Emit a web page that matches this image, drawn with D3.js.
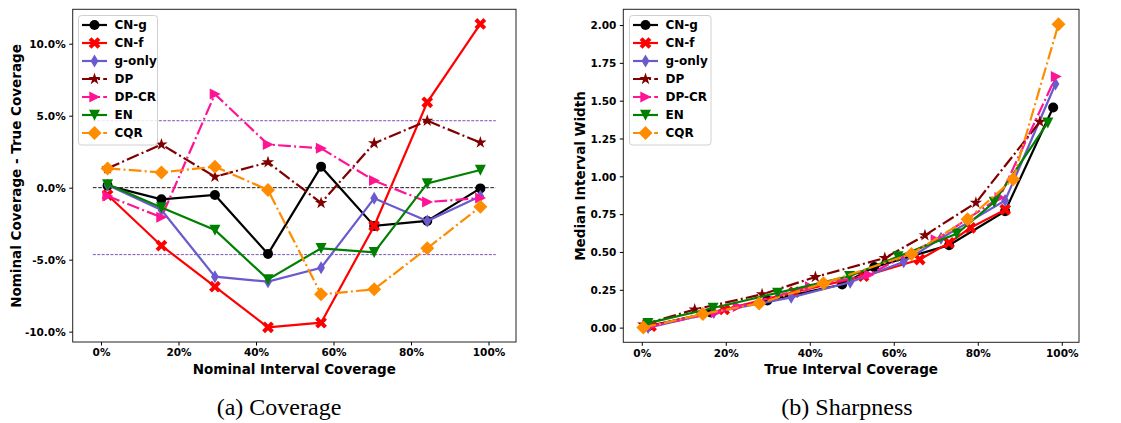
<!DOCTYPE html>
<html>
<head>
<meta charset="utf-8">
<script src="https://cdn.jsdelivr.net/npm/d3@7"></script>
<style>
  body { margin: 0; background: #fff; }
  .tick text { font-family: "DejaVu Sans", sans-serif; font-weight: bold; font-size: 10.5px; fill: #000; }
  .label { font-family: "DejaVu Sans", sans-serif; font-weight: bold; font-size: 13.5px; fill: #000; }
  .legend text { font-family: "DejaVu Sans", sans-serif; font-weight: bold; font-size: 12px; fill: #000; }
  .caption { font-family: "Liberation Serif", "Times New Roman", serif; font-size: 24px; fill: #000; }
</style>
</head>
<body>
<div id="chart"></div>
<script>
// nominal coverage levels (%), shared by all methods in panel (a)
let nominal = [1.7, 15.6, 29.4, 43.1, 56.8, 70.5, 84.2, 97.9];

let methodNames = ["CN-g", "CN-f", "g-only", "DP", "DP-CR", "EN", "CQR"];
let methodColors = ["#000000", "#ff0000", "#6a5acd", "#800000", "#ff1493", "#008000", "#ff8c00"];
let methodMarkers = ["circle", "x", "thindiamond", "star", "triright", "tridown", "diamond"];
let methodDash = [false, false, false, true, true, false, true];

// panel (a): nominal - true coverage (%)
let gapCNg   = [0.14, -0.81, -0.51, -4.60, 1.46, -2.66, -2.31, -0.05];
let gapCNf   = [-0.51, -4.03, -6.88, -9.70, -9.38, -2.66, 5.93, 11.37];
let gapGonly = [0.19, -1.55, -6.18, -6.53, -5.56, -0.74, -2.31, -0.60];
let gapDP    = [1.34, 3.00, 0.76, 1.76, -1.06, 3.08, 4.65, 3.13];
let gapDPCR  = [-0.58, -2.06, 6.50, 3.00, 2.73, 0.49, -1.00, -0.72];
let gapEN    = [0.23, -1.37, -2.94, -6.37, -4.21, -4.49, 0.30, 1.23];
let gapCQR   = [1.34, 1.06, 1.46, -0.16, -7.41, -7.06, -4.21, -1.32];

let refLines = [-4.65, 4.65];
let refSpan = [-2.1, 101.9];

// panel (b): true coverage (%) and median interval width
let trueCNg   = [1.56, 16.41, 29.91, 47.70, 55.34, 73.16, 86.51, 97.95];
let widthCNg  = [0.01, 0.10, 0.18, 0.285, 0.40, 0.545, 0.77, 1.455];
let trueCNf   = [2.21, 19.63, 36.28, 52.80, 66.18, 73.16, 78.27, 86.53];
let widthCNf  = [0.01, 0.12, 0.235, 0.34, 0.45, 0.56, 0.66, 0.78];
let trueGonly = [1.51, 17.15, 35.58, 49.63, 62.36, 71.24, 86.51, 98.50];
let widthGonly = [0.0, 0.10, 0.20, 0.30, 0.435, 0.59, 0.84, 1.61];
let trueDP    = [0.36, 12.60, 28.64, 41.34, 57.86, 67.42, 79.55, 94.77];
let widthDP   = [0.02, 0.12, 0.22, 0.335, 0.46, 0.61, 0.825, 1.36];
let trueDPCR  = [2.28, 17.66, 22.90, 40.10, 54.07, 70.01, 85.20, 98.62];
let widthDPCR = [0.01, 0.10, 0.14, 0.27, 0.35, 0.58, 0.86, 1.66];
let trueEN    = [1.47, 16.97, 32.34, 49.47, 61.01, 74.99, 83.90, 96.67];
let widthEN   = [0.03, 0.13, 0.23, 0.34, 0.47, 0.62, 0.83, 1.355];
let trueCQR   = [0.36, 14.54, 27.94, 43.26, 64.21, 77.56, 88.41, 99.22];
let widthCQR  = [0.0, 0.09, 0.16, 0.293, 0.487, 0.716, 0.98, 2.005];

let gaps = [gapCNg, gapCNf, gapGonly, gapDP, gapDPCR, gapEN, gapCQR];
let trues = [trueCNg, trueCNf, trueGonly, trueDP, trueDPCR, trueEN, trueCQR];
let widths = [widthCNg, widthCNf, widthGonly, widthDP, widthDPCR, widthEN, widthCQR];

let xTicksA = [0, 20, 40, 60, 80, 100];
let yTicksA = [-10, -5, 0, 5, 10];
let yTicksB = [0, 0.25, 0.5, 0.75, 1.0, 1.25, 1.5, 1.75, 2.0];

let W = 1121, H = 423;
let svg = d3.select("#chart").append("svg")
    .attr("width", W)
    .attr("height", H);

// marker shapes, centred on 0,0
function markerPath(type) {
    let pts;
    if (type == "circle") {
        let r = 5;
        return "M" + r + ",0A" + r + "," + r + " 0 1,1 " + (-r) + ",0A" + r + "," + r + " 0 1,1 " + r + ",0Z";
    }
    if (type == "x") {
        let r = 6.3, w = 2;
        let p = [[-w, r], [w, r], [w, w], [r, w], [r, -w], [w, -w], [w, -r], [-w, -r], [-w, -w], [-r, -w], [-r, w], [-w, w]];
        let c = Math.SQRT1_2;
        pts = p.map(q => [(q[0] - q[1]) * c, (q[0] + q[1]) * c]);
    } else if (type == "thindiamond") {
        pts = [[0, -6.5], [3.9, 0], [0, 6.5], [-3.9, 0]];
    } else if (type == "diamond") {
        pts = [[0, -7], [7, 0], [0, 7], [-7, 0]];
    } else if (type == "triright") {
        pts = [[5.8, 0], [-5.2, 5.5], [-5.2, -5.5]];
    } else if (type == "tridown") {
        pts = [[0, 5.8], [-5.5, -5.2], [5.5, -5.2]];
    } else if (type == "star") {
        pts = [];
        for (let i = 0; i < 10; i++) {
            let a = -Math.PI / 2 + i * Math.PI / 5;
            let r = i % 2 == 0 ? 6.5 : 2.5;
            pts.push([r * Math.cos(a), r * Math.sin(a)]);
        }
    }
    return "M" + pts.map(q => q[0].toFixed(2) + "," + q[1].toFixed(2)).join("L") + "Z";
}

let dashdot = "12.8,3.2,2,3.2";

function drawPanel(opt) {
    let g = svg.append("g");
    let x = opt.x, y = opt.y;

    // frame
    g.append("rect")
        .attr("x", x.range()[0])
        .attr("y", y.range()[1])
        .attr("width", x.range()[1] - x.range()[0])
        .attr("height", y.range()[0] - y.range()[1])
        .attr("fill", "none")
        .attr("stroke", "#222")
        .attr("stroke-width", 1);

    g.append("g")
        .attr("class", "axis xaxis")
        .attr("transform", "translate(0," + y.range()[0] + ")")
        .call(d3.axisBottom(x).tickValues(opt.xTicks).tickFormat(opt.xFmt).tickSizeOuter(0).tickSize(3.5).tickPadding(3.5))
        .call(a => a.select(".domain").remove());

    g.append("g")
        .attr("class", "axis yaxis")
        .attr("transform", "translate(" + x.range()[0] + ",0)")
        .call(d3.axisLeft(y).tickValues(opt.yTicks).tickFormat(opt.yFmt).tickSizeOuter(0).tickSize(3.5).tickPadding(3.5))
        .call(a => a.select(".domain").remove());

    g.selectAll(".yaxis .tick text").attr("dy", "0.36em");

    // axis titles
    g.append("text")
        .attr("class", "label")
        .attr("x", (x.range()[0] + x.range()[1]) / 2 + opt.xLabelShift)
        .attr("y", 374)
        .attr("text-anchor", "middle")
        .text(opt.xLabel);
    g.append("text")
        .attr("class", "label")
        .attr("transform", "translate(" + opt.yLabelX + "," + opt.yLabelY + ") rotate(-90)")
        .attr("text-anchor", "middle")
        .text(opt.yLabel);

    if (opt.refs) opt.refs(g);

    let line = d3.line().x(d => x(d[0])).y(d => y(d[1]));

    methodNames.forEach((name, i) => {
        let pts = opt.points(i);
        g.append("path")
            .datum(pts)
            .attr("d", line)
            .attr("fill", "none")
            .attr("stroke", methodColors[i])
            .attr("stroke-width", 2.2)
            .attr("stroke-dasharray", methodDash[i] ? dashdot : null);
        g.selectAll(null)
            .data(pts)
            .enter()
            .append("path")
            .attr("d", markerPath(methodMarkers[i]))
            .attr("transform", d => "translate(" + x(d[0]) + "," + y(d[1]) + ")")
            .attr("fill", methodColors[i]);
    });

    // legend
    let lg = g.append("g").attr("class", "legend")
        .attr("transform", "translate(" + opt.legendX + ",15.5)");
    lg.append("rect")
        .attr("width", opt.legendW)
        .attr("height", 129.5)
        .attr("rx", 3)
        .attr("fill", "#fff")
        .attr("fill-opacity", 0.85)
        .attr("stroke", "#d0d0d0");
    methodNames.forEach((name, i) => {
        let row = lg.append("g").attr("transform", "translate(0," + (9.5 + i * 18) + ")");
        row.append("line")
            .attr("x1", 3.5).attr("x2", 28.5)
            .attr("stroke", methodColors[i])
            .attr("stroke-width", 2.2)
            .attr("stroke-dasharray", methodDash[i] ? dashdot : null);
        row.append("path")
            .attr("d", markerPath(methodMarkers[i]))
            .attr("transform", "translate(16,0)")
            .attr("fill", methodColors[i]);
        row.append("text")
            .attr("x", 36)
            .attr("dy", "0.36em")
            .text(name);
    });
}

let xA = d3.scaleLinear().domain([-7.3, 107.1]).range([72.7, 516]);
let yA = d3.scaleLinear().domain([-10.72, 12.39]).range([342, 9.3]);

drawPanel({
    x: xA, y: yA,
    xTicks: xTicksA, yTicks: yTicksA,
    xFmt: d => d + "%",
    yFmt: d => d.toFixed(1) + "%",
    xLabel: "Nominal Interval Coverage",
    xLabelShift: 0,
    yLabel: "Nominal Coverage - True Coverage",
    yLabelX: 21, yLabelY: 176,
    legendX: 78.5, legendW: 79,
    points: i => nominal.map((v, k) => [v, gaps[i][k]]),
    refs: g => {
        g.append("line")
            .attr("x1", xA(refSpan[0])).attr("x2", xA(refSpan[1]))
            .attr("y1", yA(0)).attr("y2", yA(0))
            .attr("stroke", "#000").attr("stroke-width", 0.9)
            .attr("stroke-dasharray", "3.7,1.6");
        refLines.forEach(v => {
            g.append("line")
                .attr("x1", xA(refSpan[0])).attr("x2", xA(refSpan[1]))
                .attr("y1", yA(v)).attr("y2", yA(v))
                .attr("stroke", "#7b55b8").attr("stroke-width", 1)
                .attr("stroke-dasharray", "3,1.4");
        });
    }
});

let xB = d3.scaleLinear().domain([-4.4, 104.1]).range([623.3, 1079]);
let yB = d3.scaleLinear().domain([-0.097, 2.104]).range([342.3, 9.3]);

drawPanel({
    x: xB, y: yB,
    xTicks: xTicksA, yTicks: yTicksB,
    xFmt: d => d + "%",
    yFmt: d => d.toFixed(2),
    xLabel: "True Interval Coverage",
    xLabelShift: 0,
    yLabel: "Median Interval Width",
    yLabelX: 585, yLabelY: 176,
    legendX: 629.5, legendW: 81.5,
    points: i => trues[i].map((v, k) => [v, widths[i][k]])
});

// sub-captions
svg.append("text").attr("class", "caption")
    .attr("x", 279).attr("y", 415).attr("text-anchor", "middle")
    .text("(a)  Coverage");
svg.append("text").attr("class", "caption")
    .attr("x", 847).attr("y", 415).attr("text-anchor", "middle")
    .text("(b)  Sharpness");
</script>
</body>
</html>
